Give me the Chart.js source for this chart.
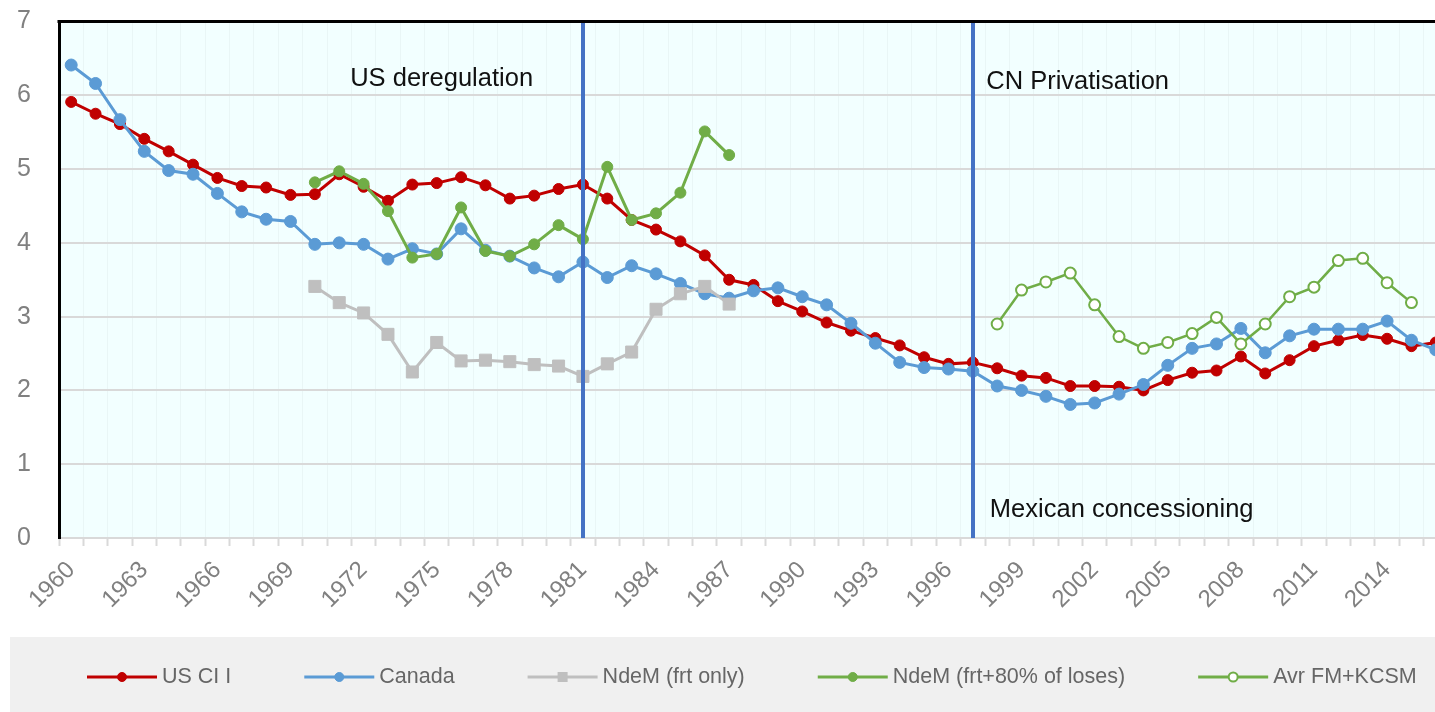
<!DOCTYPE html>
<html>
<head>
<meta charset="utf-8">
<script src="https://cdn.jsdelivr.net/npm/chart.js@4.4.1/dist/chart.umd.min.js"></script>
<style>
html,body{margin:0;padding:0;overflow:hidden;background:#fff;width:1435px;height:712px}
#wrap{position:absolute;left:0;top:0;width:1460px;height:712px}
</style>
</head>
<body>
<div id="wrap"><canvas id="c" width="1460" height="712"></canvas></div>
<script>
// ---- data ----
const years = ['1960','1961','1962','1963','1964','1965','1966','1967','1968','1969',
  '1970','1971','1972','1973','1974','1975','1976','1977','1978','1979',
  '1980','1981','1982','1983','1984','1985','1986','1987','1988','1989',
  '1990','1991','1992','1993','1994','1995','1996','1997','1998','1999',
  '2000','2001','2002','2003','2004','2005','2006','2007','2008','2009',
  '2010','2011','2012','2013','2014','2015','2016'];

const usCII = [5.91,5.75,5.61,5.41,5.24,5.06,4.88,4.77,4.75,4.65,
  4.66,4.93,4.76,4.57,4.79,4.81,4.89,4.78,4.60,4.64,
  4.73,4.79,4.60,4.31,4.18,4.02,3.83,3.50,3.43,3.21,
  3.07,2.92,2.81,2.71,2.61,2.45,2.36,2.38,2.30,2.20,
  2.17,2.06,2.06,2.05,2.00,2.14,2.24,2.27,2.46,2.23,
  2.41,2.60,2.68,2.75,2.70,2.60,2.65];

const canada = [6.41,6.16,5.67,5.24,4.98,4.93,4.67,4.42,4.32,4.29,
  3.98,4.00,3.98,3.78,3.92,3.85,4.19,3.90,3.82,3.66,
  3.54,3.74,3.53,3.69,3.58,3.45,3.31,3.25,3.35,3.39,
  3.27,3.16,2.91,2.64,2.38,2.31,2.29,2.26,2.06,2.00,
  1.92,1.81,1.83,1.95,2.08,2.34,2.57,2.63,2.84,2.51,
  2.74,2.83,2.83,2.83,2.94,2.68,2.55];

const ndemFrtOnly = [null,null,null,null,null,null,null,null,null,null,
  3.41,3.19,3.05,2.76,2.25,2.65,2.40,2.41,2.39,2.35,
  2.33,2.19,2.36,2.52,3.10,3.31,3.41,3.17,null,null,
  null,null,null,null,null,null,null,null,null,null,
  null,null,null,null,null,null,null,null,null,null,
  null,null,null,null,null,null,null];

const ndemWithLosses = [null,null,null,null,null,null,null,null,null,null,
  4.82,4.97,4.80,4.43,3.80,3.85,4.48,3.89,3.82,3.98,
  4.24,4.05,5.03,4.31,4.40,4.68,5.51,5.19,null,null,
  null,null,null,null,null,null,null,null,null,null,
  null,null,null,null,null,null,null,null,null,null,
  null,null,null,null,null,null,null];

const avrFmKcsm = [null,null,null,null,null,null,null,null,null,null,
  null,null,null,null,null,null,null,null,null,null,
  null,null,null,null,null,null,null,null,null,null,
  null,null,null,null,null,null,null,null,2.90,3.36,
  3.47,3.59,3.16,2.73,2.57,2.65,2.77,2.99,2.63,2.90,
  3.27,3.40,3.76,3.79,3.46,3.19,null];

const seriesNames = ['US CI I','Canada','NdeM (frt only)','NdeM (frt+80% of loses)','Avr FM+KCSM'];
const yTickValues = [0,1,2,3,4,5,6,7];
const eventYears = ['1981','1997'];
const eventTexts = ['US deregulation','CN Privatisation','Mexican concessioning'];

// ---- styles / helpers ----
const FONT = "'Liberation Sans', Arial, sans-serif";

const bgPlugin = {
  id: 'bgPlugin',
  beforeDraw(chart) {
    const {ctx, chartArea: a} = chart;
    ctx.save();
    ctx.fillStyle = '#ffffff';
    ctx.fillRect(0, 0, chart.width, chart.height);
    ctx.fillStyle = '#F2FFFF';
    ctx.fillRect(a.left, a.top, a.right - a.left, a.bottom - a.top);
    ctx.restore();
  }
};

const eventPlugin = {
  id: 'eventPlugin',
  afterDatasetsDraw(chart, args, opts) {
    const {ctx, chartArea: a, scales: {x, y}} = chart;
    ctx.save();
    ctx.strokeStyle = '#4472C4';
    ctx.lineWidth = 4;
    eventYears.forEach(yr => {
      const px = Math.round(x.getPixelForValue(years.indexOf(yr)));
      ctx.beginPath();
      ctx.moveTo(px, a.top);
      ctx.lineTo(px, a.bottom);
      ctx.stroke();
    });
    // annotation texts, anchored in data space
    ctx.fillStyle = '#111111';
    ctx.font = '25.5px ' + FONT;
    ctx.textBaseline = 'middle';
    ctx.textAlign = 'left';
    opts.labels.forEach((l, i) => {
      ctx.fillText(eventTexts[i], x.getPixelForValue(l.at), y.getPixelForValue(l.v));
    });
    // top frame border
    ctx.strokeStyle = '#000000';
    ctx.lineWidth = 3;
    ctx.beginPath();
    ctx.moveTo(a.left - 1.5, a.top);
    ctx.lineTo(a.right, a.top);
    ctx.stroke();
    ctx.restore();
  }
};

const legendPlugin = {
  id: 'legendPlugin',
  afterDraw(chart, args, opts) {
    const {ctx} = chart;
    ctx.save();
    ctx.fillStyle = '#F0F0F0';
    ctx.fillRect(opts.boxLeft, opts.boxTop, chart.width - opts.boxLeft, chart.height - opts.boxTop);
    ctx.font = '21.5px ' + FONT;
    ctx.textBaseline = 'middle';
    ctx.textAlign = 'left';
    let x = opts.startX;
    const yy = opts.y;
    chart.data.datasets.forEach(ds => {
      ctx.strokeStyle = ds.borderColor;
      ctx.lineWidth = 3;
      ctx.beginPath();
      ctx.moveTo(x, yy);
      ctx.lineTo(x + opts.lineLen, yy);
      ctx.stroke();
      const cx = x + opts.lineLen / 2;
      ctx.fillStyle = ds.pointBackgroundColor;
      ctx.strokeStyle = ds.borderColor;
      ctx.lineWidth = ds.pointBorderWidth;
      if (ds.pointStyle === 'rect') {
        ctx.fillRect(cx - 5, yy - 5, 10, 10);
      } else {
        ctx.beginPath();
        ctx.arc(cx, yy, 4.5, 0, Math.PI * 2);
        ctx.fill();
        if (ds.pointBorderWidth) ctx.stroke();
      }
      ctx.fillStyle = '#666666';
      const tx = x + opts.lineLen + opts.textGap;
      ctx.fillText(ds.label, tx, yy);
      x = tx + ctx.measureText(ds.label).width + opts.itemGap;
    });
    ctx.restore();
  }
};

const mk = (label, data, color, extra) => Object.assign({
  label, data,
  borderColor: color,
  backgroundColor: color,
  pointBackgroundColor: color,
  pointBorderColor: color,
  pointBorderWidth: 1,
  pointStyle: 'circle',
  pointRadius: 5.5,
  borderWidth: 3,
  tension: 0,
  spanGaps: false
}, extra);

new Chart(document.getElementById('c'), {
  type: 'line',
  data: {
    labels: years,
    datasets: [
      mk(seriesNames[0], usCII, '#C00000', {order: 5}),
      mk(seriesNames[1], canada, '#5B9BD5', {order: 4, pointRadius: 6}),
      mk(seriesNames[2], ndemFrtOnly, '#BFBFBF', {order: 3, pointStyle: 'rect', pointRadius: 8.5}),
      mk(seriesNames[3], ndemWithLosses, '#70AD47', {order: 2}),
      mk(seriesNames[4], avrFmKcsm, '#70AD47', {order: 1, pointBackgroundColor: '#FFFFFF', pointBorderWidth: 2, pointRadius: 5.5, borderWidth: 2.5})
    ]
  },
  options: {
    responsive: false,
    animation: false,
    devicePixelRatio: 1,
    layout: {padding: {top: 21.5, right: 12, left: 0, bottom: 0}},
    plugins: {
      legend: {display: false},
      tooltip: {enabled: false},
      eventPlugin: {labels: [{at: 11.45, v: 6.22}, {at: 37.55, v: 6.18}, {at: 37.7, v: 0.38}]},
      legendPlugin: {boxLeft: 10, boxTop: 637, startX: 87, y: 677, lineLen: 70, textGap: 5, itemGap: 73}
    },
    scales: {
      x: {
        type: 'category',
        offset: true,
        grid: {display: true, offset: true, color: 'rgba(0,0,0,0.035)', lineWidth: 1,
               drawTicks: true, tickLength: 8, tickColor: '#D9D9D9', tickWidth: 2},
        border: {display: true, color: '#D9D9D9', width: 2},
        ticks: {
          autoSkip: false, maxRotation: 45, minRotation: 45, padding: 10,
          color: '#808080', font: {family: FONT, size: 24},
          callback: (v, i) => (i % 3 === 0 ? years[i] : '')
        },
        afterFit: s => { s.height = 174; s.paddingLeft = 0; s.paddingRight = 0; }
      },
      y: {
        min: 0, max: 7,
        afterBuildTicks: s => { s.ticks = yTickValues.map(v => ({value: v})); },
        grid: {color: '#D9D9D9', lineWidth: 2, drawTicks: false},
        border: {display: true, color: '#000000', width: 3},
        ticks: {padding: 28, color: '#808080', font: {family: FONT, size: 25}},
        afterFit: s => { s.width = 59; s.paddingTop = 0; s.paddingBottom = 0; }
      }
    }
  },
  plugins: [bgPlugin, eventPlugin, legendPlugin]
});
</script>
</body>
</html>
